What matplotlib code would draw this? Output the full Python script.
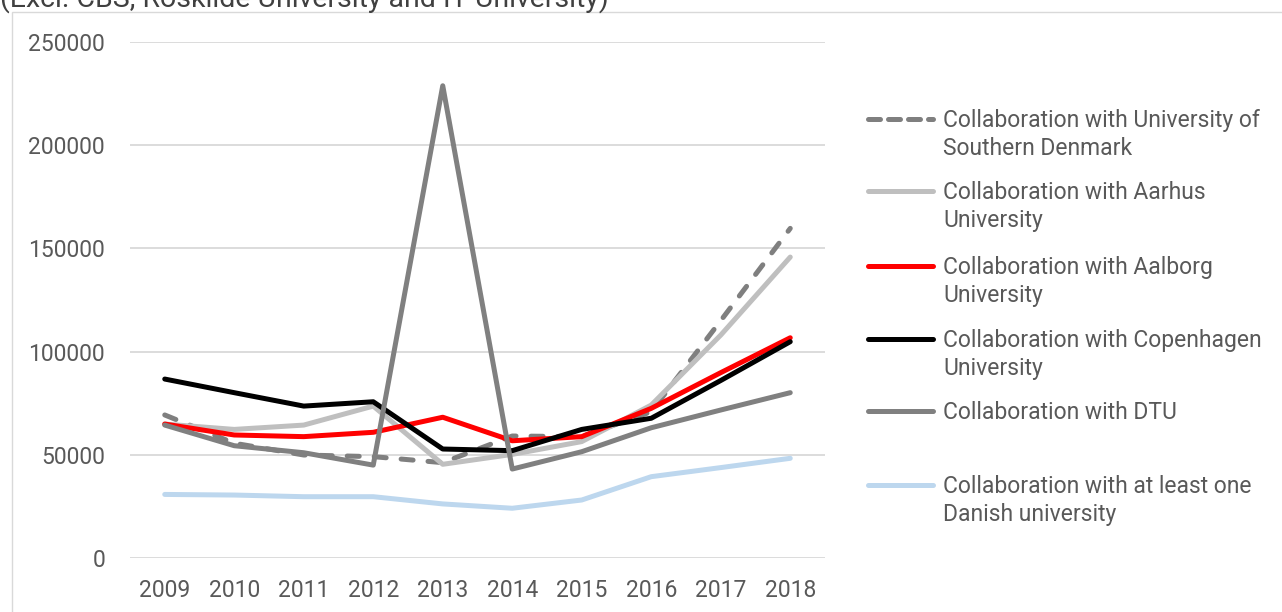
import numpy as np
import matplotlib.pyplot as plt
from matplotlib.lines import Line2D
from matplotlib.patches import Rectangle

plt.rcParams['font.family'] = ['Roboto', 'DejaVu Sans']

years = [2009, 2010, 2011, 2012, 2013, 2014, 2015, 2016, 2017, 2018]

sdu = [69300, 55600, 49900, 49100, 46200, 59100, 58800, 70900, 115000, 159700]
aarhus = [64900, 62300, 64400, 73600, 45400, 50200, 56400, 74100, 108000, 145800]
aalborg = [64900, 59600, 58800, 60900, 68200, 56800, 58800, 72500, 89800, 106700]
copenhagen = [86700, 80100, 73600, 75700, 52800, 52000, 62300, 67700, 86000, 104800]
dtu = [64400, 54400, 51000, 45000, 228800, 43100, 51500, 63100, 71700, 80100]
danish = [30800, 30500, 29700, 29700, 26200, 24100, 28100, 39400, 43800, 48300]

labels = [
    "Collaboration with University of\nSouthern Denmark",
    "Collaboration with Aarhus\nUniversity",
    "Collaboration with Aalborg\nUniversity",
    "Collaboration with Copenhagen\nUniversity",
    "Collaboration with DTU",
    "Collaboration with at least one\nDanish university",
]
series = [sdu, aarhus, aalborg, copenhagen, dtu, danish]
colors = ['#7f7f7f', '#bfbfbf', '#ff0000', '#000000', '#808080', '#bdd7ee']
styles = ['dashed', 'solid', 'solid', 'solid', 'solid', 'solid']

W, H = 1282, 612
fig = plt.figure(figsize=(W / 100, H / 100), dpi=100)
ax = fig.add_axes([130 / W, 1 - 558 / H, 695 / W, 516 / H])

# outer chart frame
fig.add_artist(Rectangle((12 / W, -0.1), 1.2, 1 - 12 / H + 0.1, transform=fig.transFigure,
                         fill=False, edgecolor='#d9d9d9', linewidth=1))

txt = '#595959'
lw = 3.6
for vals, c, ls, z in zip(series, colors, styles, range(len(series))):
    if ls == 'dashed':
        ax.plot(years, vals, color=c, lw=lw, dashes=(2.4, 3.0), dash_capstyle='round',
                solid_capstyle='round', zorder=3 + z)
    else:
        ax.plot(years, vals, color=c, lw=lw, solid_capstyle='round',
                solid_joinstyle='round', zorder=3 + z)

ax.set_xlim(2008.5, 2018.5)
ax.set_ylim(0, 250000)
ax.set_yticks(np.arange(0, 250001, 50000))
ax.set_yticklabels([str(v) for v in range(0, 250001, 50000)])
ax.set_xticks(years)
ax.set_xticklabels([str(y) for y in years])
ax.grid(axis='y', color='#d9d9d9', lw=1.3)
ax.set_axisbelow(True)
for s in ax.spines.values():
    s.set_visible(False)
ax.tick_params(axis='both', length=0, labelsize=16.5, labelcolor=txt)
ax.tick_params(axis='y', pad=18)
ax.tick_params(axis='x', pad=15)

# title sits partly above the figure edge, as in the source image
fig.text(0.0, 1 - 7 / H, "(Excl. CBS, Roskilde University and IT University)",
         fontsize=20.5, color='#404040', ha='left', va='baseline')

# legend
leg_y = [119, 191, 266, 339, 411, 485]
for lab, c, ls, y in zip(labels, colors, styles, leg_y):
    yf = 1 - y / H
    if ls == 'dashed':
        ln = Line2D([868 / W, 933 / W], [yf, yf], transform=fig.transFigure, color=c, lw=lw,
                    dashes=(2.4, 1.6), dash_capstyle='round')
    else:
        ln = Line2D([868 / W, 933 / W], [yf, yf], transform=fig.transFigure, color=c, lw=lw,
                    solid_capstyle='round')
    fig.add_artist(ln)
    fig.text(943 / W, yf + 10 / H, lab, fontsize=16.5, color=txt, ha='left', va='top',
             linespacing=1.29, transform=fig.transFigure)

fig.savefig('out.png', dpi=100)
